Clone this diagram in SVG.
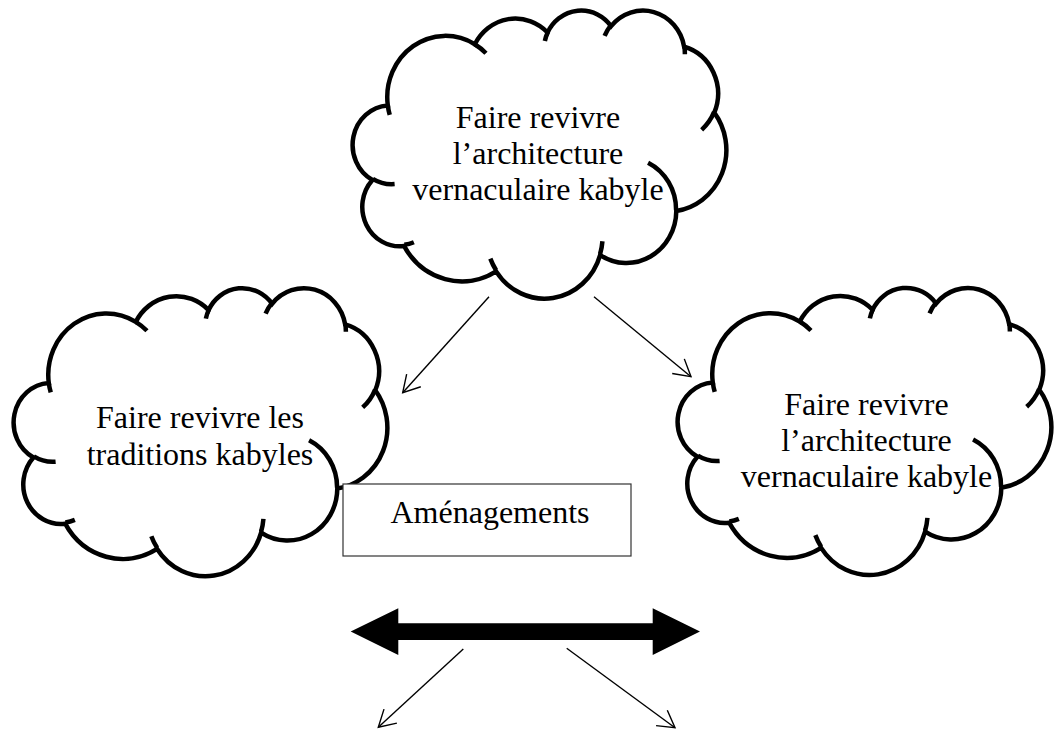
<svg xmlns="http://www.w3.org/2000/svg" xmlns:xlink="http://www.w3.org/1999/xlink" width="1054" height="731" viewBox="0 0 1054 731">
  <style>
    .cloud-outline { fill: #ffffff; stroke: #000000; stroke-width: 4.5; vector-effect: non-scaling-stroke; }
    .cloud-inner { fill: none; stroke: #000000; stroke-width: 4.5; vector-effect: non-scaling-stroke; }
    .label { font-family: "Liberation Serif", "Times New Roman", serif; font-size: 32px; fill: #000000; text-anchor: middle; }
    .link { stroke: #000000; stroke-width: 1.4; fill: none; marker-end: url(#open-arrow); }
    .box { fill: #ffffff; stroke: #333333; stroke-width: 1.2; }
  </style>
  <defs>
    <!-- open "V" arrowhead used by the thin connectors -->
    <marker id="open-arrow" markerUnits="userSpaceOnUse" viewBox="0 0 22 24" refX="19.5" refY="12" markerWidth="22" markerHeight="24" orient="auto">
      <path d="M3,2.5 L19.5,12 L3,21.5" fill="none" stroke="#000000" stroke-width="1.4" stroke-linejoin="miter"/>
    </marker>
    <!-- cloud outline drawn on a 43200 x 43200 grid -->
    <g id="cloud-shape">
      <path class="cloud-outline" d="M3900 14370 A6753 9190 0 0 1 14005 5202 A5333 7267 0 0 1 22456 3432 A4365 5945 0 0 1 29833 2481 A4857 6595 0 0 1 38318 5576 A5333 7273 0 0 1 41818 15460 A6775 9220 0 0 1 37405 30203 A5785 7867 0 0 1 28558 36814 A6752 9215 0 0 1 16482 39265 A7720 10543 0 0 1 5806 35471 A4360 5918 0 0 1 2115 25549 A4345 5945 0 0 1 3900 14370 Z"/>
      <path class="cloud-inner" d="M4693 26177 A4345 5945 0 0 1 2160 25380 M6928 34899 A4360 5918 0 0 1 5820 35280 M16478 39090 A6752 9215 0 0 1 15810 37350 M28827 34751 A6752 9215 0 0 1 28560 36660 M34129 22954 A5785 7867 0 0 1 37380 30090 M41798 15354 A5333 7273 0 0 1 40351 18030 M38324 5426 A4857 6595 0 0 1 38400 6690 M29078 3952 A4857 6595 0 0 1 29820 2340 M22141 4720 A4365 5945 0 0 1 22500 3330 M14000 5192 A6753 9190 0 0 1 15300 6540 M4127 15789 A6753 9190 0 0 1 3900 14370"/>
    </g>
  </defs>

  <rect x="0" y="0" width="1054" height="731" fill="#ffffff"/>

  <!-- top cloud -->
  <g id="node-top">
    <use xlink:href="#cloud-shape" transform="translate(354.2,9.6) scale(0.0086111,0.0066667)"/>
    <text class="label" x="538" y="128.3">Faire revivre</text>
    <text class="label" x="538" y="164.3">l’architecture</text>
    <text class="label" x="538" y="200">vernaculaire kabyle</text>
  </g>

  <!-- left cloud -->
  <g id="node-left">
    <use xlink:href="#cloud-shape" transform="translate(15.2,287.2) scale(0.0086111,0.0066667)"/>
    <text class="label" x="200" y="428.3">Faire revivre les</text>
    <text class="label" x="200" y="465">traditions kabyles</text>
  </g>

  <!-- right cloud -->
  <g id="node-right">
    <use xlink:href="#cloud-shape" transform="translate(679.2,287) scale(0.0086111,0.0066435)"/>
    <text class="label" x="866.5" y="415">Faire revivre</text>
    <text class="label" x="866.5" y="451">l’architecture</text>
    <text class="label" x="866.5" y="487">vernaculaire kabyle</text>
  </g>

  <!-- central box -->
  <g id="node-box">
    <rect class="box" x="343" y="484" width="288" height="72"/>
    <text class="label" x="490" y="523.3">Aménagements</text>
  </g>

  <!-- connectors -->
  <g id="connectors">
    <line class="link" x1="489" y1="296.7" x2="402.7" y2="392.7"/>
    <line class="link" x1="594" y1="296.7" x2="691" y2="376.7"/>
    <path id="double-arrow" d="M350.7,631.6 L398.3,608.3 L398.3,623.3 L652.7,623.3 L652.7,608.3 L700,631.6 L652.7,655 L652.7,640 L398.3,640 L398.3,655 Z" fill="#000000"/>
    <line class="link" x1="463.3" y1="649" x2="378.3" y2="727.3"/>
    <line class="link" x1="566.7" y1="648.3" x2="675" y2="727.7"/>
  </g>
</svg>
